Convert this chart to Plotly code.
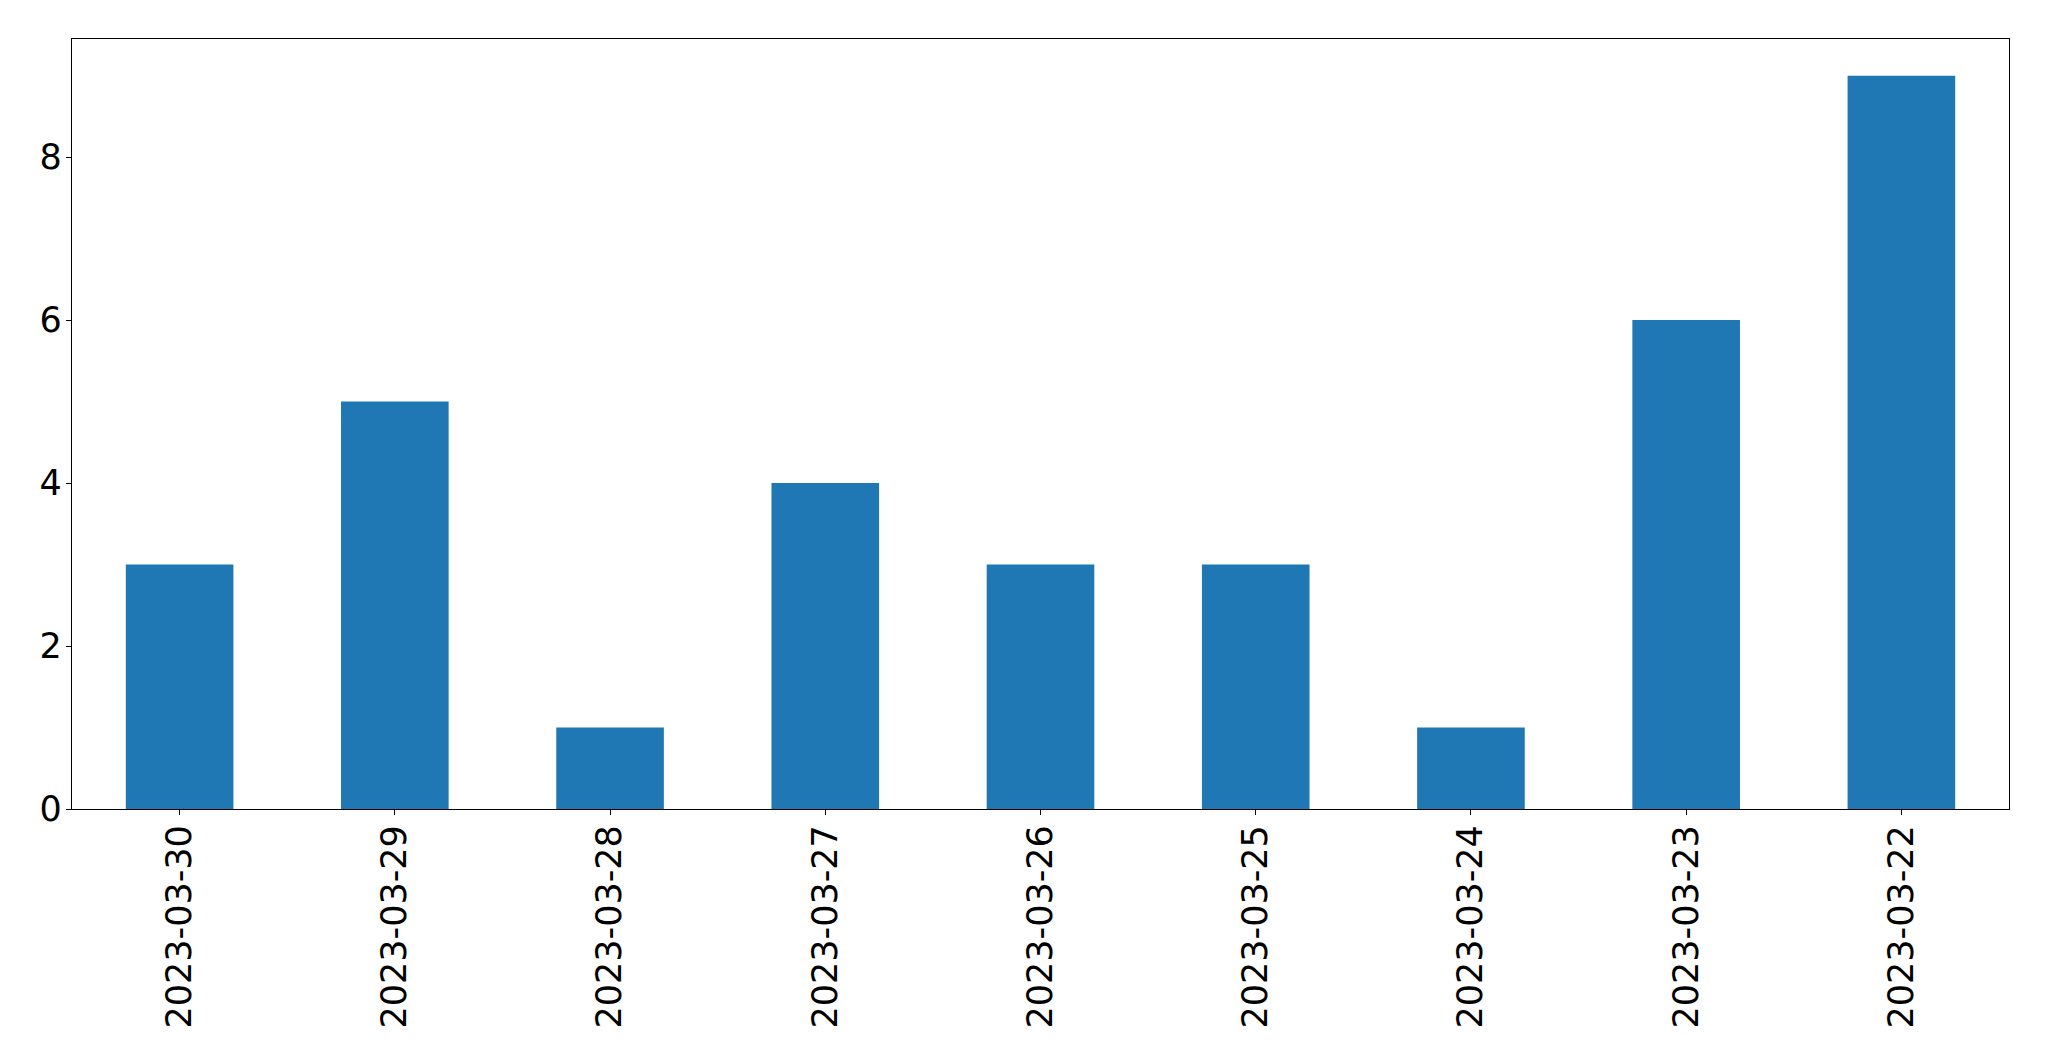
import plotly.graph_objects as go

dates = ["2023-03-30", "2023-03-29", "2023-03-28", "2023-03-27", "2023-03-26",
         "2023-03-25", "2023-03-24", "2023-03-23", "2023-03-22"]
counts = [3, 5, 1, 4, 3, 3, 1, 6, 9]
y_ticks = [0, 2, 4, 6, 8]

fig = go.Figure(go.Bar(x=dates, y=counts, marker=dict(color="#1f77b4", line=dict(width=0)),
                       width=0.5))

fig.update_layout(
    width=2041, height=1053,
    margin=dict(l=64, r=40, t=31, b=252, pad=0),
    paper_bgcolor="white", plot_bgcolor="white",
    font=dict(family="DejaVu Sans", size=35, color="black"),
    showlegend=False,
)
fig.update_xaxes(type="category", tickangle=-90, ticks="outside", ticklen=5, tickwidth=1.3,
                 tickcolor="black", showline=True, linecolor="black", linewidth=1.3,
                 mirror=True, showgrid=False, range=[-0.5, 8.5], zeroline=False,
                 ticklabelstandoff=-4)
fig.update_yaxes(range=[0, 9.45], tickvals=y_ticks, ticks="outside", ticklen=5, tickwidth=1.3,
                 tickcolor="black", showline=True, linecolor="black", linewidth=1.3,
                 mirror=True, showgrid=False, zeroline=False, ticklabelstandoff=-3)

fig.write_html("out.html")
